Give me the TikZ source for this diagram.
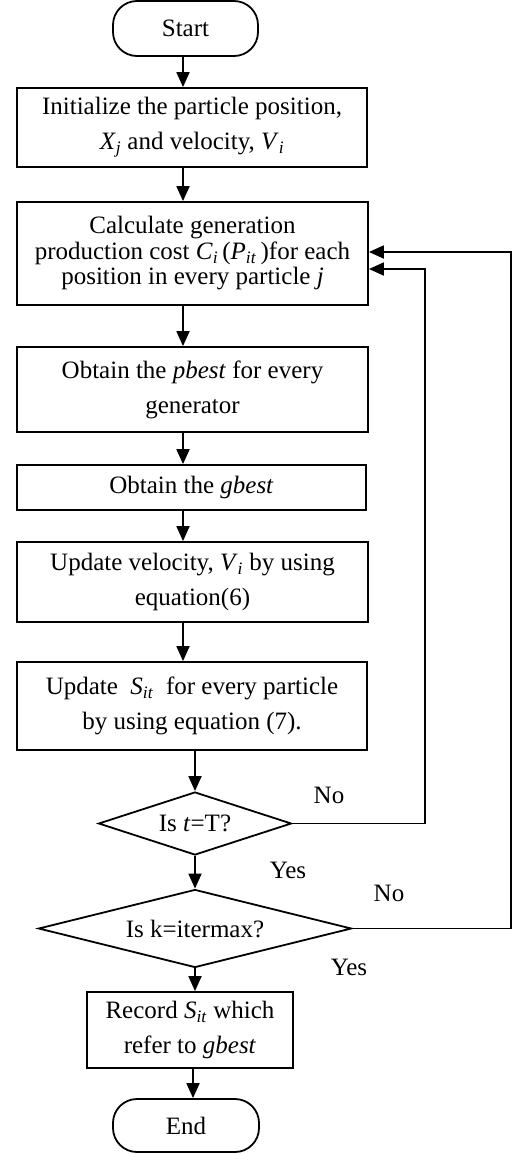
\documentclass[tikz,border=0pt]{standalone}
\usepackage{fontspec}
\setmainfont{Liberation Serif}
\usetikzlibrary{shapes.geometric,arrows.meta,calc}
\newcommand\mysub[2]{\textit{#1}\textsubscript{\textit{#2}}}
\begin{document}
\begin{tikzpicture}[x=1pt,y=-1pt,
  every node/.style={inner sep=0pt},
  txt/.style={font=\fontsize{25}{35}\selectfont},
  box/.style={txt, draw, line width=1.8pt, rectangle, align=center},
  term/.style={txt, draw, line width=1.8pt, rectangle, rounded corners=24pt},
  dec/.style={txt, draw, line width=1.8pt, diamond, aspect=3},
  arr/.style={line width=1.8pt, -{Triangle[length=15pt,width=13pt]}},
  lbl/.style={txt, anchor=base}]
\useasboundingbox (0,0) rectangle (526,1154);
\coordinate (axis) at (183,0);
\coordinate (axisb) at (195,0);
\coordinate (axisc) at (193,0);
\coordinate (c1) at (425,269);
\coordinate (c2) at (511,252);

\node[term, minimum width=145pt, minimum height=55pt] (start) at (185.5,28.5) {Start};
\node[box, minimum width=350pt, minimum height=79pt] (init) at (192,127.5)
  {Initialize the particle position,\\ \mysub{X}{j} and velocity, \mysub{V}{i}};
\node[box, minimum width=351pt, minimum height=103pt, font=\fontsize{25}{25.5}\selectfont] (calc) at (192.5,253.5)
  {Calculate generation\\ production cost \mysub{C}{i}\,(\mysub{P}{it}\,)for each\\ position in every particle \textit{j}};
\node[box, minimum width=351pt, minimum height=85pt] (pbest) at (192.5,389.5)
  {Obtain the \textit{pbest} for every\\ generator};
\node[box, minimum width=349pt, minimum height=45pt] (gbest) at (191.5,487.5)
  {Obtain the \textit{gbest}};
\node[box, minimum width=351pt, minimum height=80pt] (vel) at (192.5,582)
  {Update velocity, \mysub{V}{i}\ by using\\ equation(6)};
\node[box, minimum width=350pt, minimum height=88pt] (supd) at (192,706)
  {Update\ \ \mysub{S}{it}\ \ for every particle\\ by using equation (7).};
\node[dec, minimum width=193pt, minimum height=63pt] (d1) at (195,823.5) {Is \textit{t}=T?};
\node[dec, minimum width=313pt, minimum height=78pt] (d2) at (195,928.5) {Is k=itermax?};
\node[box, minimum width=206pt, minimum height=76pt] (rec) at (190,1030)
  {Record \mysub{S}{it} which\\ refer to \textit{gbest}};
\node[term, minimum width=146pt, minimum height=53pt] (end) at (186,1125.5) {End};

\draw[arr] (start.south -| axis) -- (init.north -| axis);
\draw[arr] (init.south -| axis) -- (calc.north -| axis);
\draw[arr] (calc.south -| axis) -- (pbest.north -| axis);
\draw[arr] (pbest.south -| axis) -- (gbest.north -| axis);
\draw[arr] (gbest.south -| axis) -- (vel.north -| axis);
\draw[arr] (vel.south -| axis) -- (supd.north -| axis);
\draw[arr] (supd.south -| axisb) -- (d1.north);
\draw[arr] (d1.south) -- (d2.north);
\draw[arr] (d2.south) -- (d2.south |- rec.north);
\draw[arr] (rec.south -| axisc) -- (end.north -| axisc);
\draw[arr] (d1.east) -| (c1) -- (c1 -| calc.east);
\draw[arr] (d2.east) -| (c2) -- (c2 -| calc.east);

\node[lbl] (no1) at (329,803) {No};
\node[lbl] (yes1) at (288,878) {Yes};
\node[lbl] (no2) at (389,901) {No};
\node[lbl] (yes2) at (349,975) {Yes};
\end{tikzpicture}
\end{document}
